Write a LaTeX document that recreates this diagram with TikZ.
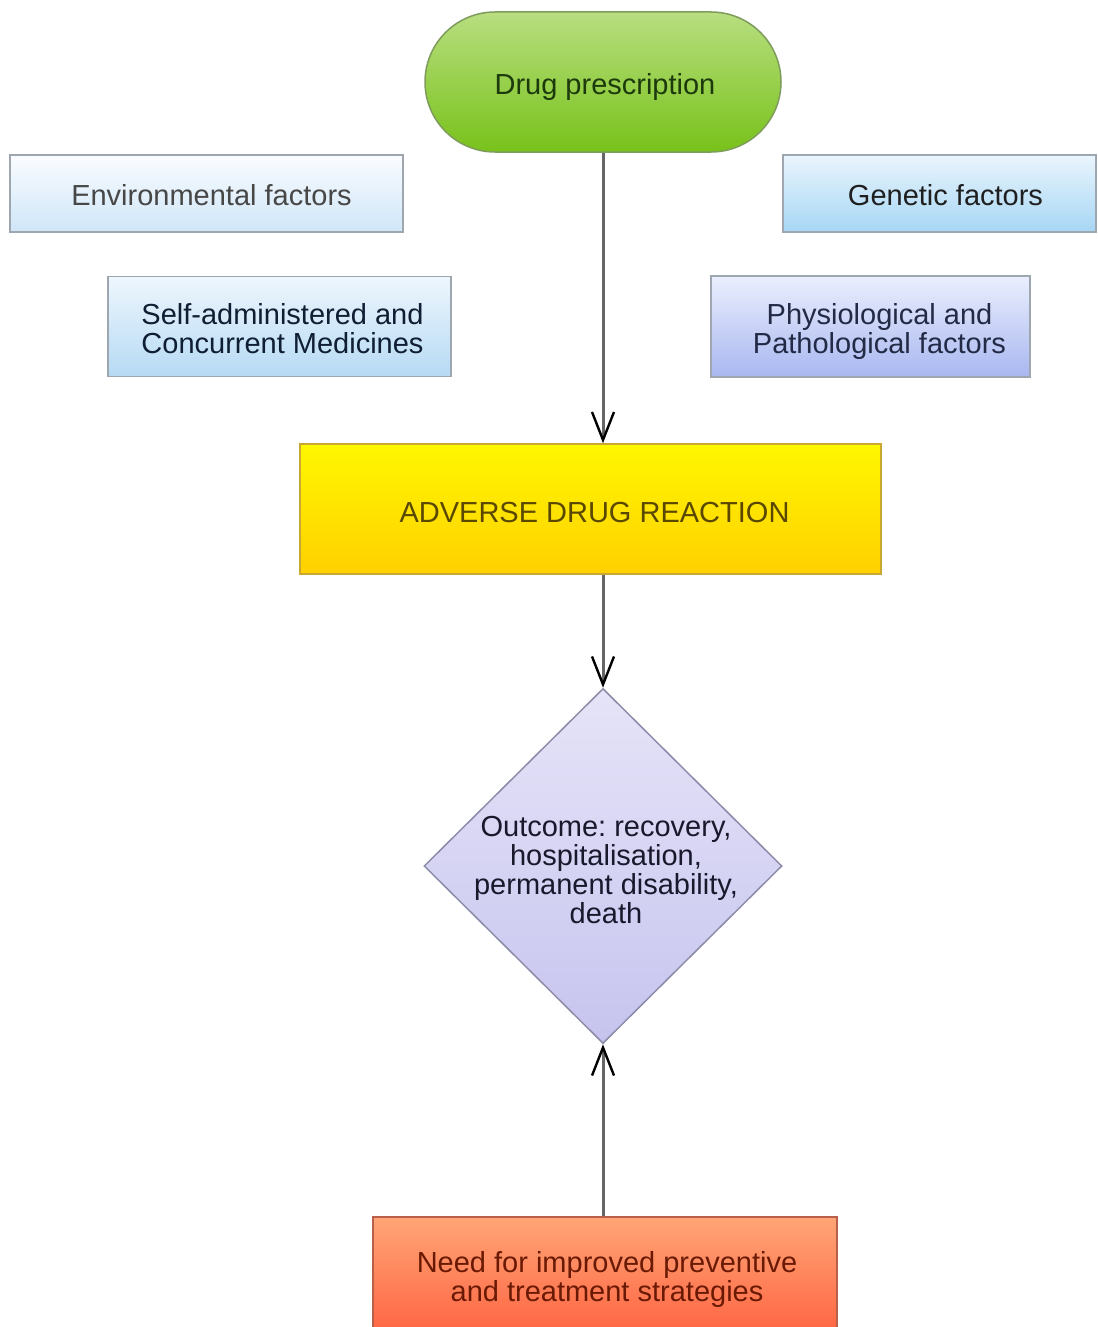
\documentclass[tikz,border=0pt]{standalone}
\usepackage{fontspec}
\setmainfont{Liberation Sans}
\frenchspacing
\usetikzlibrary{shapes.geometric,arrows.meta,shadings}
\definecolor{dpTop}{HTML}{B8DE80}
\definecolor{dpBot}{HTML}{78C21A}
\definecolor{dpLine}{HTML}{7E9C5C}
\definecolor{dpText}{HTML}{1C3A0C}
\definecolor{boxLine}{HTML}{9EA6B0}
\definecolor{envTop}{HTML}{FAFCFF}
\definecolor{envBot}{HTML}{CFE6F8}
\definecolor{genTop}{HTML}{EAF5FD}
\definecolor{genBot}{HTML}{A6D6F4}
\definecolor{selfTop}{HTML}{EEF6FD}
\definecolor{selfBot}{HTML}{B6DAF4}
\definecolor{phyTop}{HTML}{EAEFFD}
\definecolor{phyBot}{HTML}{A9B7F0}
\definecolor{adrTop}{HTML}{FFF700}
\definecolor{adrBot}{HTML}{FFD000}
\definecolor{adrLine}{HTML}{C9A832}
\definecolor{adrText}{HTML}{5A4800}
\definecolor{dmTop}{HTML}{E6E4F8}
\definecolor{dmBot}{HTML}{C6C4EE}
\definecolor{dmLine}{HTML}{8C8CA8}
\definecolor{ndTop}{HTML}{FFA576}
\definecolor{ndBot}{HTML}{FF6442}
\definecolor{ndLine}{HTML}{B8604A}
\definecolor{ndText}{HTML}{6A1A04}
\definecolor{arrLine}{HTML}{666666}
\definecolor{selfText}{HTML}{0F1E32}
\definecolor{phyText}{HTML}{232A46}
\definecolor{dmText}{HTML}{19192D}
\tikzset{
  txt/.style={font=\fontsize{29}{29}\selectfont, align=center, inner sep=0pt},
  factorbox/.style={draw=boxLine, line width=1.5pt, inner sep=0pt},
  conn/.style={draw=arrLine, line width=3pt, -{Straight Barb[length=28pt,width=22pt,line width=2.4pt,color=black]}}
}
\begin{document}
\begin{tikzpicture}[x=1pt,y=-1pt]
\clip (0,0) rectangle (1097,1327);
\fill[white] (0,0) rectangle (1097,1327);

% shapes
\node[draw=dpLine, line width=1.5pt, top color=dpTop, bottom color=dpBot,
      rounded corners=70pt, minimum width=356pt, minimum height=140pt] (drug) at (603,82) {};
\node[factorbox, top color=envTop, bottom color=envBot,
      minimum width=393pt, minimum height=77pt] (env) at (206.5,193.5) {};
\node[factorbox, top color=genTop, bottom color=genBot,
      minimum width=313pt, minimum height=77pt] (gen) at (939.5,193.5) {};
\node[factorbox, top color=selfTop, bottom color=selfBot,
      minimum width=343pt, minimum height=100pt] (self) at (279.5,326.5) {};
\node[factorbox, top color=phyTop, bottom color=phyBot,
      minimum width=319pt, minimum height=101pt] (phys) at (870.5,326.5) {};
\node[draw=adrLine, line width=1.5pt, top color=adrTop, bottom color=adrBot,
      minimum width=581pt, minimum height=130pt] (adr) at (590.5,509) {};
\node[diamond, draw=dmLine, line width=1.5pt, top color=dmTop, bottom color=dmBot,
      minimum width=358pt, minimum height=355pt, inner sep=0pt] (out) at (603,866) {};
\node[draw=ndLine, line width=1.5pt, top color=ndTop, bottom color=ndBot,
      minimum width=464pt, minimum height=118pt] (need) at (605,1276) {};

% texts
\node[txt, text=dpText] (drugtxt) at ([shift={(2,5)}]drug.center) {Drug prescription};
\node[txt, text=black!72] (envtxt) at ([shift={(5,2)}]env.center) {Environmental factors};
\node[txt, text=black!88] (gentxt) at ([shift={(6,2)}]gen.center) {Genetic factors};
\node[txt, text=selfText] (selftxt) at ([shift={(3,2)}]self.center) {Self-administered and\\Concurrent Medicines};
\node[txt, text=phyText] (phystxt) at ([shift={(9,5)}]phys.center) {Physiological and\\Pathological factors};
\node[txt, text=adrText] (adrtxt) at ([shift={(4,4)}]adr.center) {ADVERSE DRUG REACTION};
\node[txt, text=dmText] (outtxt) at ([shift={(3,4)}]out.center) {Outcome: recovery,\\hospitalisation,\\permanent disability,\\death};
\node[txt, text=ndText] (needtxt) at ([shift={(2,3)}]need.center) {Need for improved preventive\\and treatment strategies};

% connectors
\draw[conn] (603,0 |- drug.south) -- (603,0 |- adr.north);
\draw[conn] (603,0 |- adr.south) -- (out.north);
\draw[conn] (603,0 |- need.north) -- (out.south);
\end{tikzpicture}
\end{document}
